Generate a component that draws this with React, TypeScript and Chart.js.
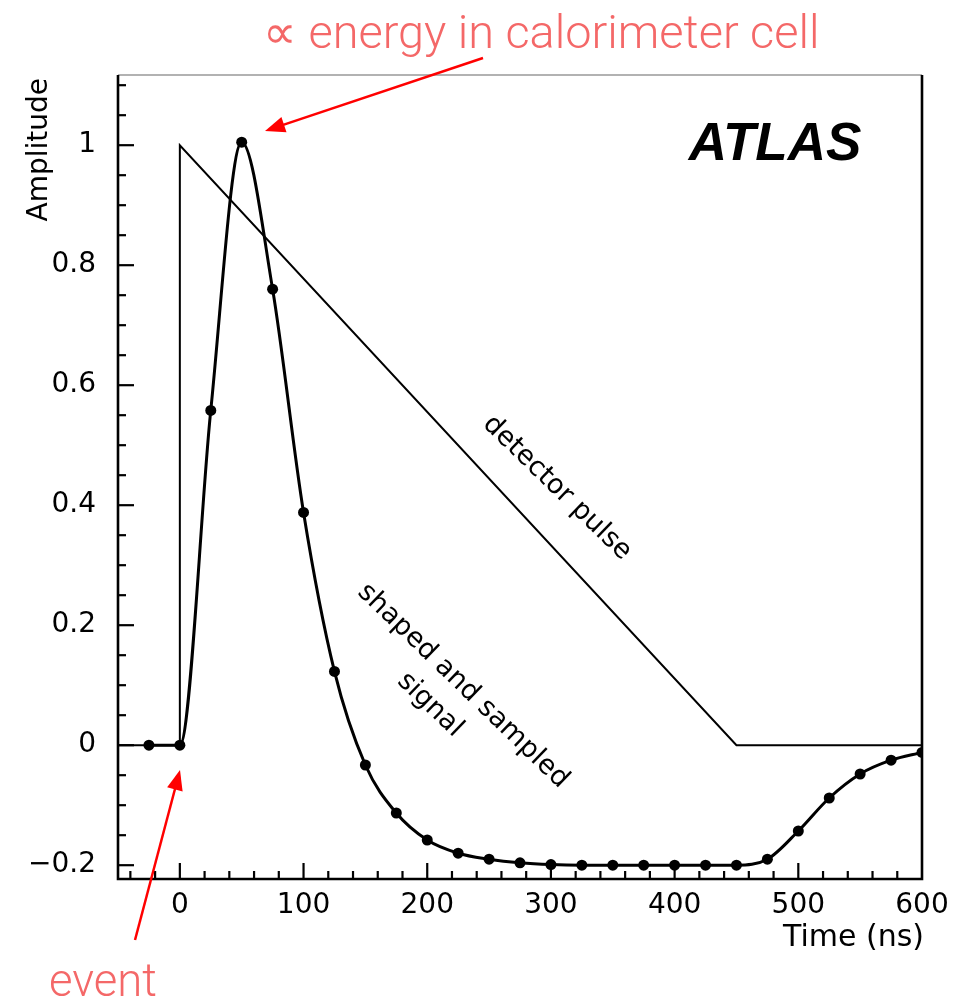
import React, { useEffect, useRef } from 'react';
import { Chart, registerables } from 'chart.js';

Chart.register(...registerables);

// ---- data ----
const sampleTimes = [-25, 0, 25, 50, 75, 100, 125, 150, 175, 200, 225, 250, 275, 300, 325, 350, 375, 400, 425, 450, 475, 500, 525, 550, 575, 600];
const sampleAmps = [0, 0, 0.558, 1.005, 0.76, 0.388, 0.123, -0.033, -0.113, -0.158, -0.18, -0.19, -0.196, -0.199, -0.2, -0.2, -0.2, -0.2, -0.2, -0.2, -0.19, -0.143, -0.088, -0.048, -0.025, -0.012];
const pulseTimes = [-50, 0, 0, 450, 600];
const pulseAmps = [0, 0, 1, 0, 0];
const xTickValues = [0, 100, 200, 300, 400, 500, 600];
const xTickLabels = ['0', '100', '200', '300', '400', '500', '600'];
const yTickValues = [-0.2, 0, 0.2, 0.4, 0.6, 0.8, 1];
const yTickLabels = ['\u22120.2', '0', '0.2', '0.4', '0.6', '0.8', '1'];
const xRange = [-50, 600];
const yRange = [-0.223, 1.117];

const BLACK_FONT = "'DejaVu Sans', 'Liberation Sans', sans-serif";
const RED_FONT = "Roboto, Lato, 'Open Sans', sans-serif";
const SALMON = '#f46868';

function drawArrow(ctx: CanvasRenderingContext2D, x0: number, y0: number, x1: number, y1: number) {
  const ang = Math.atan2(y1 - y0, x1 - x0);
  const headLen = 20;
  const headW = 8;
  ctx.save();
  ctx.strokeStyle = '#ff0000';
  ctx.fillStyle = '#ff0000';
  ctx.lineWidth = 2.5;
  ctx.beginPath();
  ctx.moveTo(x0, y0);
  ctx.lineTo(x1 - Math.cos(ang) * headLen * 0.8, y1 - Math.sin(ang) * headLen * 0.8);
  ctx.stroke();
  ctx.beginPath();
  ctx.moveTo(x1, y1);
  const bx = x1 - Math.cos(ang) * headLen;
  const by = y1 - Math.sin(ang) * headLen;
  ctx.lineTo(bx + Math.sin(ang) * headW, by - Math.cos(ang) * headW);
  ctx.lineTo(bx - Math.sin(ang) * headW, by + Math.cos(ang) * headW);
  ctx.closePath();
  ctx.fill();
  ctx.restore();
}

function fitFont(ctx: CanvasRenderingContext2D, text: string, width: number, weight: string, family: string) {
  ctx.font = `${weight} 100px ${family}`;
  const w = ctx.measureText(text).width;
  return (100 * width) / w;
}

const decorPlugin = {
  id: 'decor',
  afterDraw(chart: any) {
    const ctx: CanvasRenderingContext2D = chart.ctx;
    const { left, right, top, bottom } = chart.chartArea;
    const xs = chart.scales.x;
    const ys = chart.scales.y;
    ctx.save();

    // tick marks (inside)
    ctx.strokeStyle = '#000';
    ctx.lineWidth = 2.2;
    for (let i = -2; i <= 30; i++) {
      const v = i * 20;
      const px = xs.getPixelForValue(v);
      if (px < left + 2 || px > right - 2) continue;
      const len = i % 5 === 0 ? 16 : 8;
      ctx.beginPath();
      ctx.moveTo(px, bottom);
      ctx.lineTo(px, bottom - len);
      ctx.stroke();
    }
    for (let i = -4; i <= 22; i++) {
      const v = i * 0.05;
      const py = ys.getPixelForValue(v);
      if (py > bottom - 2 || py < top + 2) continue;
      const len = i % 4 === 0 ? 16 : 8;
      ctx.beginPath();
      ctx.moveTo(left, py);
      ctx.lineTo(left + len, py);
      ctx.stroke();
    }

    // frame
    ctx.strokeStyle = '#666';
    ctx.lineWidth = 1.2;
    ctx.beginPath();
    ctx.moveTo(left, top);
    ctx.lineTo(right, top);
    ctx.stroke();
    ctx.strokeStyle = '#000';
    ctx.lineWidth = 2.6;
    ctx.beginPath();
    ctx.moveTo(left, top);
    ctx.lineTo(left, bottom);
    ctx.lineTo(right, bottom);
    ctx.lineTo(right, top);
    ctx.stroke();

    // axis titles
    ctx.fillStyle = '#000';
    ctx.save();
    ctx.translate(47, 78);
    ctx.rotate(-Math.PI / 2);
    ctx.font = `28px ${BLACK_FONT}`;
    ctx.textAlign = 'right';
    ctx.textBaseline = 'alphabetic';
    ctx.fillText('Amplitude', 0, 0);
    ctx.restore();

    ctx.font = `30px ${BLACK_FONT}`;
    ctx.textAlign = 'right';
    ctx.textBaseline = 'middle';
    ctx.fillText('Time (ns)', right + 2, 938);

    // ATLAS
    ctx.font = `italic bold 53px 'Liberation Sans', Arial, sans-serif`;
    ctx.textAlign = 'center';
    ctx.textBaseline = 'middle';
    ctx.fillText('ATLAS', 775, 145);

    // rotated labels
    const rot = (44 * Math.PI) / 180;
    const rotText = (t: string, cx: number, cy: number) => {
      ctx.save();
      ctx.translate(cx, cy);
      ctx.rotate(rot);
      ctx.font = `27px ${BLACK_FONT}`;
      ctx.textAlign = 'center';
      ctx.textBaseline = 'middle';
      ctx.fillText(t, 0, 0);
      ctx.restore();
    };
    rotText('detector pulse', 557, 488);
    rotText('shaped and sampled', 463, 686);
    rotText('signal', 430, 705);

    // red annotations
    const topText = '\u221D energy in calorimeter cell';
    const s1 = fitFont(ctx, topText, 556, '300', RED_FONT);
    ctx.font = `300 ${s1}px ${RED_FONT}`;
    ctx.fillStyle = SALMON;
    ctx.textAlign = 'left';
    ctx.textBaseline = 'alphabetic';
    ctx.fillText(topText, 263, 48);

    const s2 = fitFont(ctx, 'event', 108, '300', RED_FONT);
    ctx.font = `300 ${s2}px ${RED_FONT}`;
    ctx.fillText('event', 49, 996);

    drawArrow(ctx, 483, 58, 265, 131);
    drawArrow(ctx, 135, 940, 180, 770);

    ctx.restore();
  },
};

export default function App() {
  const ref = useRef<HTMLCanvasElement | null>(null);
  useEffect(() => {
    if (!ref.current) return;
    const signalData = sampleTimes.map((t, i) => ({ x: t, y: sampleAmps[i] }));
    const pulseData = pulseTimes.map((t, i) => ({ x: t, y: pulseAmps[i] }));
    const chart = new Chart(ref.current, {
      type: 'line',
      data: {
        datasets: [
          {
            label: 'detector pulse',
            data: pulseData,
            borderColor: '#000',
            borderWidth: 2,
            pointRadius: 0,
            tension: 0,
          },
          {
            label: 'shaped and sampled signal',
            data: signalData,
            borderColor: '#000',
            backgroundColor: '#000',
            borderWidth: 3,
            pointRadius: 5.5,
            pointBackgroundColor: '#000',
            pointBorderWidth: 0,
            cubicInterpolationMode: 'monotone',
          },
        ],
      },
      options: {
        animation: false,
        responsive: false,
        devicePixelRatio: 1,
        layout: { padding: { left: 0, right: 55, top: 75, bottom: 0 } },
        plugins: { legend: { display: false }, tooltip: { enabled: false }, title: { display: false } },
        scales: {
          x: {
            type: 'linear',
            min: xRange[0],
            max: xRange[1],
            grid: { display: false, drawTicks: false },
            border: { display: false },
            afterBuildTicks: (scale: any) => {
              scale.ticks = xTickValues.map((v) => ({ value: v }));
            },
            afterFit: (scale: any) => {
              scale.height = 122;
            },
            ticks: {
              autoSkip: false,
              maxRotation: 0,
              padding: 10,
              color: '#000',
              font: { family: BLACK_FONT, size: 28 },
              callback: (v: any) => {
                const i = xTickValues.indexOf(Number(v));
                return i >= 0 ? xTickLabels[i] : '';
              },
            },
          },
          y: {
            type: 'linear',
            min: yRange[0],
            max: yRange[1],
            grid: { display: false, drawTicks: false },
            border: { display: false },
            afterBuildTicks: (scale: any) => {
              scale.ticks = yTickValues.map((v) => ({ value: v }));
            },
            afterFit: (scale: any) => {
              scale.width = 118;
            },
            ticks: {
              autoSkip: false,
              padding: 22,
              color: '#000',
              font: { family: BLACK_FONT, size: 28 },
              callback: (v: any) => {
                const i = yTickValues.findIndex((t) => Math.abs(t - Number(v)) < 1e-9);
                return i >= 0 ? yTickLabels[i] : '';
              },
            },
          },
        },
      },
      plugins: [decorPlugin],
    } as any);
    return () => chart.destroy();
  }, []);
  return (
    <div style={{ position: 'absolute', left: 0, top: 0, width: 977, height: 1001, background: '#fff' }}>
      <canvas ref={ref} width={977} height={1001} style={{ display: 'block' }} />
    </div>
  );
}
